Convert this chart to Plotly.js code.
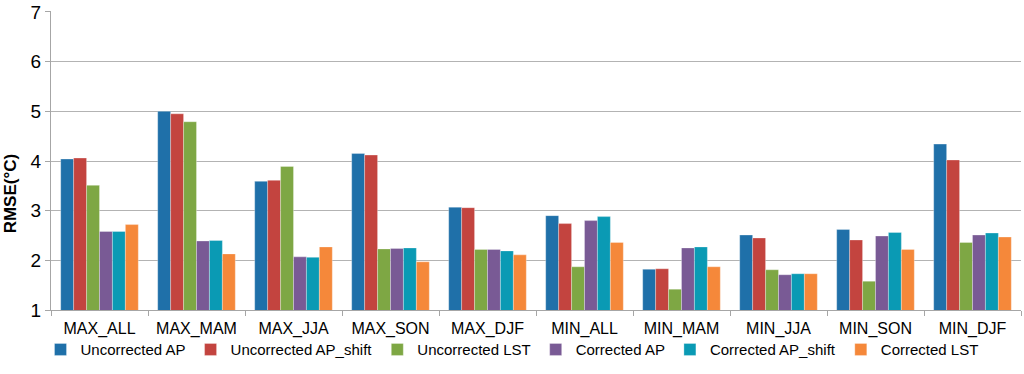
<!DOCTYPE html>
<html>
<head>
<meta charset="utf-8">
<script src="https://cdn.plot.ly/plotly-3.0.1.min.js"></script>
<style>html,body{margin:0;padding:0;background:#fff;}#chart{width:1024px;height:374px;}</style>
</head>
<body>
<div id="chart"></div>
<script>
const categories = ["MAX_ALL","MAX_MAM","MAX_JJA","MAX_SON","MAX_DJF","MIN_ALL","MIN_MAM","MIN_JJA","MIN_SON","MIN_DJF"];
const seriesNames = ["Uncorrected AP","Uncorrected AP_shift","Uncorrected LST","Corrected AP","Corrected AP_shift","Corrected LST"];
const uncorrectedAP      = [4.04, 5.00, 3.59, 4.15, 3.07, 2.90, 1.82, 2.51, 2.62, 4.34];
const uncorrectedAPShift = [4.06, 4.95, 3.61, 4.12, 3.06, 2.74, 1.83, 2.45, 2.41, 4.02];
const uncorrectedLST     = [3.51, 4.79, 3.89, 2.23, 2.22, 1.87, 1.42, 1.81, 1.58, 2.36];
const correctedAP        = [2.58, 2.39, 2.07, 2.24, 2.22, 2.80, 2.25, 1.71, 2.49, 2.51];
const correctedAPShift   = [2.58, 2.40, 2.06, 2.25, 2.19, 2.88, 2.27, 1.73, 2.56, 2.55];
const correctedLST       = [2.72, 2.13, 2.27, 1.97, 2.11, 2.36, 1.87, 1.73, 2.22, 2.47];
const yTicks = [1, 2, 3, 4, 5, 6, 7];
const yTitle = "RMSE(°C)";
const seriesValues = [uncorrectedAP, uncorrectedAPShift, uncorrectedLST, correctedAP, correctedAPShift, correctedLST];
const colors = ["#1f70a9","#c3443f","#7ea744","#795a95","#0a9ab4","#f5883a"];

const traces = seriesNames.map((name, i) => ({
  type: "bar",
  name: name,
  x: categories,
  y: seriesValues[i],
  marker: {color: colors[i], line: {color: "rgba(255,255,255,0.6)", width: 0.5}}
}));

const layout = {
  width: 1024, height: 374,
  margin: {l: 51, r: 3, t: 11, b: 64},
  paper_bgcolor: "#fff", plot_bgcolor: "#fff",
  barmode: "group", bargap: 0.2, bargroupgap: 0,
  font: {family: "Liberation Sans, Arial, sans-serif", color: "#000"},
  showlegend: true,
  legend: {orientation: "h", xref: "container", x: 0.5, xanchor: "center", yref: "container", y: 0.065, yanchor: "middle",
           bgcolor: "rgba(0,0,0,0)", font: {size: 15}, itemwidth: 30, tracegroupgap: 0},
  xaxis: {
    type: "category", showgrid: false, showline: true, linecolor: "#a6a6a6", linewidth: 1,
    ticks: "outside", tickson: "boundaries", ticklen: 5, tickcolor: "#a6a6a6",
    tickfont: {size: 16}, tickangle: 0, ticklabelstandoff: 4, zeroline: false
  },
  yaxis: {
    range: [1, 7.02], tickvals: yTicks,
    showgrid: true, gridcolor: "#b3b3b3", gridwidth: 1,
    showline: true, linecolor: "#a6a6a6", linewidth: 1,
    ticks: "outside", ticklen: 5, tickcolor: "#a6a6a6",
    tickfont: {size: 19}, zeroline: false
  },
  annotations: [{
    text: "<b>" + yTitle + "</b>", xref: "paper", yref: "paper",
    x: -0.0423, y: 0.39, xanchor: "center", yanchor: "middle",
    textangle: -90, showarrow: false, font: {size: 17}
  }]
};
Plotly.newPlot("chart", traces, layout, {displayModeBar: false, staticPlot: true});
</script>
</body>
</html>
